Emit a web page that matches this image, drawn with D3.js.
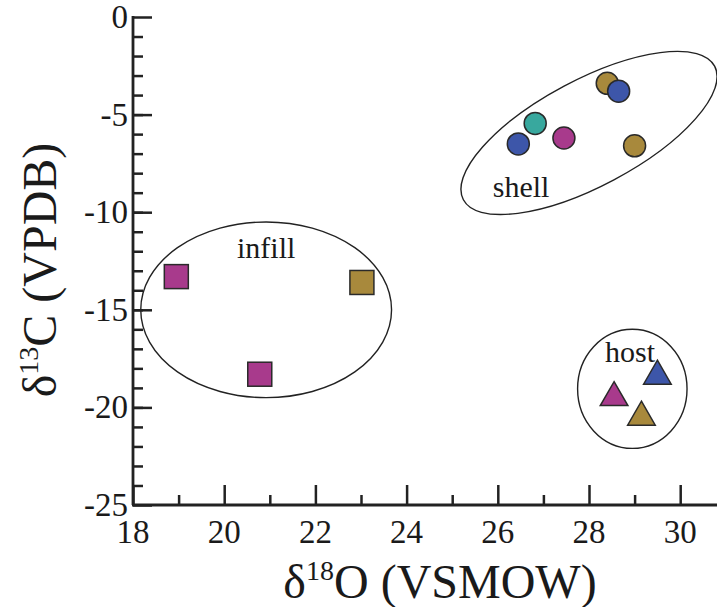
<!DOCTYPE html>
<html>
<head>
<meta charset="utf-8">
<script src="https://cdn.jsdelivr.net/npm/d3@7"></script>
<style>
  body { margin: 0; background: #fff; }
  svg text { font-family: "Liberation Serif", "Times New Roman", Times, serif; fill: #1a1a1a; }
</style>
</head>
<body>
<div id="app"></div>
<script>
// shell (circles)
const shellX = [26.45, 26.82, 27.45, 28.4, 28.65, 29.0];
const shellY = [-6.5, -5.45, -6.2, -3.4, -3.8, -6.6];
const shellColor = ['blue', 'teal', 'magenta', 'gold', 'blue', 'gold'];
// infill (squares)
const infillX = [18.95, 23.02, 20.78];
const infillY = [-13.3, -13.6, -18.3];
const infillColor = ['magenta', 'gold', 'magenta'];
// host (triangles)
const hostX = [28.55, 29.5, 29.15];
const hostY = [-19.5, -18.4, -20.5];
const hostColor = ['magenta', 'blue', 'gold'];

const xTicks = [18, 20, 22, 24, 26, 28, 30];
const yTicks = [0, -5, -10, -15, -20, -25];

const palette = { magenta: '#a83a8c', gold: '#a8893c', blue: '#3d56a9', teal: '#38a89e' };
const font = '"Liberation Serif", "Times New Roman", Times, serif';

const width = 717;
const height = 607;
const margin = { left: 133, right: 0, top: 17, bottom: 102 };

const svg = d3.select('#app').append('svg')
  .attr('width', width).attr('height', height)
  .attr('font-family', font);

const x = d3.scaleLinear([18, 31.3], [margin.left, margin.left + 13.3 * 45.6]);
const y = d3.scaleLinear([-25, 0], [height - margin.bottom, margin.top]);

// group ellipses: centre in data units, semi axes in x / y units (before rotation)
const groups = [
  { name: 'shell', cx: 28.0, cy: -5.94, a: 3.12, b: 2.72, angle: -28, lx: 26.51, ly: -9.22 },
  { name: 'infill', cx: 20.92, cy: -15.0, a: 2.75, b: 4.5, angle: 0, lx: 20.92, ly: -12.35 },
  { name: 'host', cx: 28.95, cy: -19.05, a: 1.2, b: 3.05, angle: 0, lx: 28.9, ly: -17.67 }
];

const eg = svg.append('g');
groups.forEach(g => {
  const cx = x(g.cx), cy = y(g.cy);
  const rx = x(g.cx + g.a) - cx;
  const ry = y(g.cy - g.b) - cy;
  eg.append('ellipse')
    .attr('cx', cx).attr('cy', cy)
    .attr('rx', rx).attr('ry', ry)
    .attr('transform', `rotate(${g.angle}, ${cx}, ${cy})`)
    .attr('fill', 'none')
    .attr('stroke', '#222')
    .attr('stroke-width', 1.4);
  eg.append('text')
    .attr('x', x(g.lx)).attr('y', y(g.ly))
    .attr('text-anchor', 'middle')
    .attr('font-size', 30)
    .text(g.name);
});

// axes
const yAxis = d3.axisRight(y).tickValues(yTicks).tickSize(19).tickFormat('');
const yMinor = d3.axisRight(y).tickValues(d3.range(-24, 0)).tickSize(10).tickFormat('');
const xAxis = d3.axisTop(x).tickValues(xTicks).tickSize(20).tickFormat('');
const xMinor = d3.axisTop(x).tickValues(d3.range(19, 31, 2)).tickSize(10).tickFormat('');

const ax = svg.append('g');
ax.append('g').attr('transform', `translate(${margin.left},0)`).call(yAxis);
ax.append('g').attr('transform', `translate(${margin.left},0)`).call(yMinor);
ax.append('g').attr('transform', `translate(0,${y(-25)})`).call(xAxis);
ax.append('g').attr('transform', `translate(0,${y(-25)})`).call(xMinor);
ax.selectAll('.domain').remove();
ax.selectAll('line').attr('stroke', '#222').attr('stroke-width', 2.5);
ax.append('line')
  .attr('x1', margin.left).attr('x2', margin.left)
  .attr('y1', y(0) - 1).attr('y2', y(-25))
  .attr('stroke', '#222').attr('stroke-width', 2.8);
ax.append('line')
  .attr('x1', margin.left - 1).attr('x2', width)
  .attr('y1', y(-25)).attr('y2', y(-25))
  .attr('stroke', '#222').attr('stroke-width', 2.8);

// tick labels
svg.append('g').selectAll('text').data(yTicks).join('text')
  .attr('x', margin.left - 5)
  .attr('y', d => y(d) + 11)
  .attr('text-anchor', 'end')
  .attr('font-size', 33)
  .text(d => d);
svg.append('g').selectAll('text').data(xTicks).join('text')
  .attr('x', d => x(d))
  .attr('y', y(-25) + 38)
  .attr('text-anchor', 'middle')
  .attr('font-size', 33)
  .text(d => d);

// axis titles
const xt = svg.append('text')
  .attr('x', 440).attr('y', 598)
  .attr('text-anchor', 'middle')
  .attr('font-size', 48);
xt.append('tspan').text('δ');
xt.append('tspan').attr('font-size', 28).attr('dy', -18).text('18');
xt.append('tspan').attr('dy', 18).text('O (VSMOW)');

const yt = svg.append('text')
  .attr('transform', `translate(56, 270) rotate(-90)`)
  .attr('text-anchor', 'middle')
  .attr('font-size', 48);
yt.append('tspan').text('δ');
yt.append('tspan').attr('font-size', 28).attr('dy', -18).text('13');
yt.append('tspan').attr('dy', 18).text('C (VPDB)');

// points
const pts = svg.append('g').attr('stroke', '#2a2a2a').attr('stroke-width', 1.5);
pts.selectAll('circle').data(d3.range(shellX.length)).join('circle')
  .attr('cx', i => x(shellX[i]))
  .attr('cy', i => y(shellY[i]))
  .attr('r', 11)
  .attr('fill', i => palette[shellColor[i]]);

pts.selectAll('rect').data(d3.range(infillX.length)).join('rect')
  .attr('x', i => x(infillX[i]) - 12)
  .attr('y', i => y(infillY[i]) - 12)
  .attr('width', 24).attr('height', 24)
  .attr('fill', i => palette[infillColor[i]]);

const tri = d3.symbol(d3.symbolTriangle, 330);
pts.selectAll('path').data(d3.range(hostX.length)).join('path')
  .attr('d', tri)
  .attr('transform', i => `translate(${x(hostX[i])},${y(hostY[i])})`)
  .attr('fill', i => palette[hostColor[i]]);
</script>
</body>
</html>
